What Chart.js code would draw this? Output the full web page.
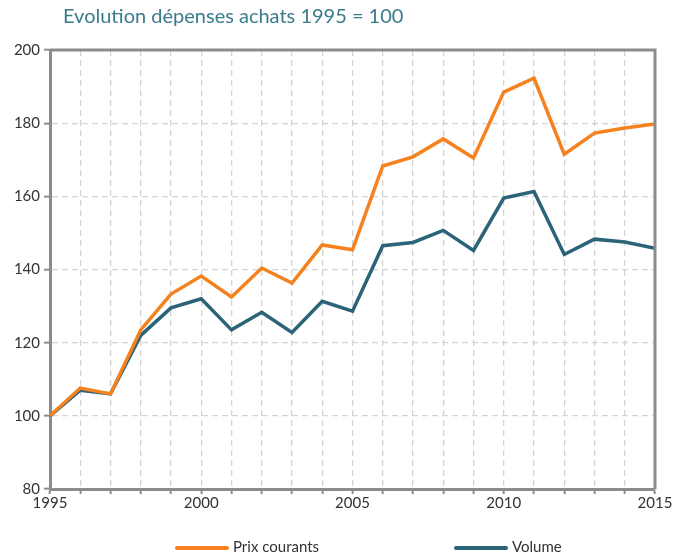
<!DOCTYPE html>
<html><head><meta charset="utf-8">
<script src="https://cdn.jsdelivr.net/npm/chart.js@4"></script>
<style>html,body{margin:0;padding:0;background:#fff}#wrap{width:673px;height:556px}</style>
</head><body><div id="wrap"><canvas id="c" width="673" height="556"></canvas></div>
<script>
const titleText = "Evolution dépenses achats 1995 = 100";
const years = [1995,1996,1997,1998,1999,2000,2001,2002,2003,2004,2005,2006,2007,2008,2009,2010,2011,2012,2013,2014,2015];
const prixCourants = [100,107.6,106,123.5,133.3,138.2,132.5,140.4,136.3,146.7,145.4,168.3,170.8,175.7,170.5,188.5,192.3,171.5,177.3,178.7,179.8];
const volume = [100,107,106,122,129.5,132,123.5,128.3,122.8,131.3,128.6,146.5,147.4,150.7,145.2,159.5,161.3,144.1,148.3,147.5,145.8];
const seriesNames = ["Prix courants","Volume"];
const yTicks = [80,100,120,140,160,180,200];

const FONT = "Lato,'DejaVu Sans',sans-serif";
const colors = ["#F5821F","#2B6478"];

const custom = {
  id:'custom',
  afterDraw(chart){
    const ctx = chart.ctx, a = chart.chartArea;
    ctx.save();
    ctx.strokeStyle = '#8c8c8c'; ctx.lineWidth = 3;
    ctx.beginPath();
    ctx.moveTo(a.left, a.top); ctx.lineTo(a.right, a.top); ctx.lineTo(a.right, a.bottom);
    ctx.stroke();
    ctx.fillStyle = '#3A7B8C';
    ctx.font = "20px " + FONT;
    ctx.textBaseline = 'middle'; ctx.textAlign = 'left';
    ctx.fillText(titleText, 63, 17);
    ctx.font = "15px " + FONT;
    const lx = [177, 456];
    chart.data.datasets.forEach((ds,i)=>{
      ctx.strokeStyle = ds.borderColor; ctx.lineWidth = 4; ctx.lineCap='round';
      ctx.beginPath(); ctx.moveTo(lx[i], 548); ctx.lineTo(lx[i]+50, 548); ctx.stroke();
      ctx.fillStyle = '#333';
      ctx.fillText(ds.label, lx[i]+56, 547);
    });
    ctx.restore();
  }
};

new Chart(document.getElementById('c'), {
  type:'line',
  data:{
    datasets:[
      {label:seriesNames[0], data:years.map((y,i)=>({x:y,y:prixCourants[i]})), borderColor:colors[0], backgroundColor:colors[0], borderWidth:3.5, pointRadius:0, tension:0},
      {label:seriesNames[1], data:years.map((y,i)=>({x:y,y:volume[i]})), borderColor:colors[1], backgroundColor:colors[1], borderWidth:3.5, pointRadius:0, tension:0}
    ]
  },
  options:{
    responsive:false, animation:false,
    layout:{padding:{top:50,right:18,left:0,bottom:0}},
    plugins:{legend:{display:false}, title:{display:false}, tooltip:{enabled:false}},
    scales:{
      x:{type:'linear', min:1995, max:2015,
        afterFit(s){ s.height = 67; },
        ticks:{stepSize:1, autoSkip:false, maxRotation:0, color:'#333', font:{family:FONT,size:15}, padding:0,
          callback:v=> (v%5===0 ? String(v) : '')},
        grid:{color:'#d4d4d4', lineWidth:1.3, drawTicks:true, tickLength:5, tickColor:'#8c8c8c', tickWidth:2, tickBorderDash:[]},
        border:{color:'#8c8c8c', width:3, dash:[6,4]}
      },
      y:{min:80, max:200,
        afterFit(s){ s.width = 50; },
        afterBuildTicks(s){ s.ticks = yTicks.map(v=>({value:v})); },
        ticks:{color:'#333', font:{family:FONT,size:15}, padding:4},
        grid:{color:'#d4d4d4', lineWidth:1.3, tickLength:6, tickColor:'#8c8c8c', tickWidth:2, tickBorderDash:[]},
        border:{color:'#8c8c8c', width:3, dash:[6,4]}
      }
    }
  },
  plugins:[custom]
});
</script></body></html>
